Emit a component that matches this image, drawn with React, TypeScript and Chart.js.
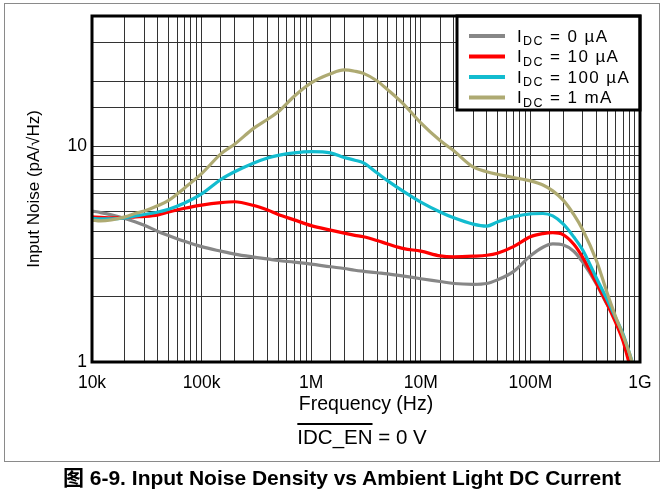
import React, { useEffect, useRef } from "react";
import { Chart, registerables } from "chart.js";

Chart.register(...registerables);

// Frequencies (Hz) shared by all curves
const FREQ_HZ = [
  1e4, 1.2e4, 1.5e4, 2e4, 2.5e4, 3e4, 4e4, 5e4, 7e4,
  1e5, 1.5e5, 2e5, 3e5, 4e5, 5e5, 7e5,
  1e6, 1.5e6, 2e6, 2.5e6, 3e6, 4e6, 5e6, 7e6,
  1e7, 1.5e7, 2e7, 3e7, 4e7, 5e7, 7e7,
  1e8, 1.3e8, 1.6e8, 2e8, 2.5e8, 3e8, 4e8, 5e8, 6e8, 7e8, 8e8, 8.5e8,
];

// Input noise (pA/√Hz)
const NOISE_0UA = [
  5.0, 4.92, 4.8, 4.62, 4.45, 4.3, 4.02, 3.85, 3.62,
  3.42, 3.26, 3.16, 3.06, 3.0, 2.95, 2.9,
  2.84, 2.76, 2.71, 2.66, 2.63, 2.59, 2.56, 2.5,
  2.43, 2.36, 2.31, 2.29, 2.31, 2.4, 2.62,
  3.1, 3.4, 3.52, 3.48, 3.25, 2.9, 2.3, 1.85, 1.58, 1.3, 1.05, 0.95,
];
const NOISE_10UA = [
  4.7, 4.68, 4.65, 4.66, 4.7, 4.72, 4.8, 4.95, 5.15,
  5.33, 5.47, 5.52, 5.3, 5.05, 4.82, 4.55,
  4.28, 4.08, 3.95, 3.86, 3.8, 3.65, 3.52, 3.35,
  3.26, 3.1, 3.07, 3.09, 3.12, 3.19, 3.42,
  3.8, 3.93, 3.97, 3.88, 3.5, 3.05, 2.32, 1.86, 1.52, 1.25, 0.98, 0.9,
];
const NOISE_100UA = [
  4.62, 4.6, 4.6, 4.65, 4.75, 4.82, 4.95, 5.1, 5.45,
  6.0, 7.0, 7.6, 8.35, 8.8, 9.05, 9.3,
  9.42, 9.3, 8.85, 8.6, 8.35, 7.5, 6.9, 6.15,
  5.5, 4.95, 4.65, 4.35, 4.26, 4.45, 4.7,
  4.85, 4.87, 4.75, 4.35, 3.78, 3.3, 2.45, 1.95, 1.6, 1.35, 1.1, 1.0,
];
const NOISE_1MA = [
  4.54, 4.5, 4.55, 4.7, 4.88, 5.0, 5.3, 5.6, 6.4,
  7.45, 9.2, 10.2, 12.1, 13.3, 14.4, 17.0,
  19.6, 21.6, 22.5, 22.2, 21.7, 20.0, 18.2, 15.6,
  12.8, 10.6, 9.5, 8.0, 7.6, 7.4, 7.15,
  6.9, 6.6, 6.2, 5.6, 4.8, 4.1, 2.95, 2.1, 1.62, 1.33, 1.1, 0.99,
];

const SERIES_LABELS = ["IDC = 0 µA", "IDC = 10 µA", "IDC = 100 µA", "IDC = 1 mA"];
const LEGEND_MAIN = "I";
const LEGEND_SUB = "DC";
const LEGEND_REST = [" = 0 µA", " = 10 µA", " = 100 µA", " = 1 mA"];
const SERIES_COLORS = ["#878787", "#ff0000", "#12bccf", "#aeaa72"];

const X_TICK_VALUES = [1e4, 1e5, 1e6, 1e7, 1e8, 1e9];
const X_TICK_LABELS = ["10k", "100k", "1M", "10M", "100M", "1G"];
const Y_TICK_VALUES = [1, 10];
const Y_TICK_LABELS = ["1", "10"];

const X_TITLE = "Frequency (Hz)";
const Y_TITLE = "Input Noise (pA/√Hz)";
const CONDITION_OVER = "IDC_EN";
const CONDITION_REST = " = 0 V";
const CAPTION = "图 6-9. Input Noise Density vs Ambient Light DC Current";

const FONT = "'Liberation Sans', Arial, 'Noto Sans CJK SC', sans-serif";

function labelFor(values: number[], labels: string[]) {
  return (v: number | string) => {
    const n = Number(v);
    const i = values.findIndex((t) => Math.abs(Math.log10(t) - Math.log10(n)) < 1e-6);
    return i >= 0 ? labels[i] : "";
  };
}

const frameAndLegendPlugin = {
  id: "frameAndLegend",
  afterDraw(chart: any) {
    const ctx = chart.ctx;
    const a = chart.chartArea;
    ctx.save();
    // legend box
    const lx = 457;
    const ly = a.top;
    const lw = a.right - lx;
    const lh = 94;
    ctx.fillStyle = "#ffffff";
    ctx.fillRect(lx, ly, lw, lh);
    ctx.strokeStyle = "#000";
    ctx.lineWidth = 3;
    ctx.strokeRect(lx, ly, lw, lh);
    chart.data.datasets.forEach((ds: any, i: number) => {
      const y = ly + 20 + i * 20.5;
      ctx.strokeStyle = ds.borderColor;
      ctx.lineWidth = 4;
      ctx.beginPath();
      ctx.moveTo(469, y);
      ctx.lineTo(505, y);
      ctx.stroke();
      ctx.fillStyle = "#000";
      ctx.textBaseline = "alphabetic";
      ctx.textAlign = "left";
      (ctx as any).letterSpacing = "1.4px";
      let x = 517;
      const base = y + 5.5;
      ctx.font = `17px ${FONT}`;
      ctx.fillText(LEGEND_MAIN, x, base);
      x += ctx.measureText(LEGEND_MAIN).width;
      ctx.font = `12.5px ${FONT}`;
      ctx.fillText(LEGEND_SUB, x, base + 3.5);
      x += ctx.measureText(LEGEND_SUB).width;
      ctx.font = `17px ${FONT}`;
      ctx.fillText(LEGEND_REST[i], x, base);
      (ctx as any).letterSpacing = "0px";
    });
    // plot border
    ctx.strokeStyle = "#000";
    ctx.lineWidth = 3;
    ctx.strokeRect(a.left, a.top, a.right - a.left, a.bottom - a.top);
    ctx.restore();
  },
};

export default function App() {
  const canvasRef = useRef<HTMLCanvasElement | null>(null);

  useEffect(() => {
    const canvas = canvasRef.current;
    if (!canvas) return;
    const seriesValues = [NOISE_0UA, NOISE_10UA, NOISE_100UA, NOISE_1MA];
    const chart = new Chart(canvas, {
      type: "line",
      data: {
        datasets: seriesValues.map((vals, i) => ({
          label: SERIES_LABELS[i],
          data: FREQ_HZ.map((f, j) => ({ x: f, y: vals[j] })),
          borderColor: SERIES_COLORS[i],
          backgroundColor: SERIES_COLORS[i],
          borderWidth: 3.2,
          pointRadius: 0,
          cubicInterpolationMode: "monotone" as const,
          fill: false,
          order: 3 - i,
        })),
      },
      options: {
        responsive: false,
        animation: false,
        devicePixelRatio: 1,
        layout: { padding: { left: 0, right: 23, top: 16, bottom: 80 } },
        plugins: {
          legend: { display: false },
          tooltip: { enabled: false },
        },
        scales: {
          x: {
            type: "logarithmic",
            min: 1e4,
            max: 1e9,
            afterFit: (s: any) => {
              s.height = 54;
            },
            grid: { color: "#333", lineWidth: 1, drawTicks: false },
            border: { display: false },
            ticks: {
              autoSkip: false,
              maxRotation: 0,
              padding: 11,
              color: "#000",
              font: { family: FONT, size: 17.5 },
              callback: labelFor(X_TICK_VALUES, X_TICK_LABELS),
            },
            title: {
              display: true,
              text: X_TITLE,
              color: "#000",
              font: { family: FONT, size: 19.5 },
              padding: 0,
            },
          },
          y: {
            type: "logarithmic",
            min: 1,
            max: 40,
            afterFit: (s: any) => {
              s.width = 92;
            },
            grid: { color: "#333", lineWidth: 1, drawTicks: false },
            border: { display: false },
            ticks: {
              autoSkip: false,
              padding: 5,
              color: "#000",
              font: { family: FONT, size: 17.5 },
              callback: labelFor(Y_TICK_VALUES, Y_TICK_LABELS),
            },
            title: {
              display: true,
              text: Y_TITLE,
              color: "#000",
              font: { family: FONT, size: 17 },
              padding: { top: 24, bottom: 0 },
            },
          },
        },
      },
      plugins: [frameAndLegendPlugin],
    });
    return () => chart.destroy();
  }, []);

  return (
    <div style={{ position: "absolute", left: 0, top: 0, width: 663, height: 496, background: "#fff", fontFamily: FONT }}>
      <div
        style={{
          position: "absolute",
          left: 4,
          top: 3,
          width: 654,
          height: 457,
          border: "1px solid #8a8a8a",
        }}
      />
      <canvas ref={canvasRef} width={663} height={496} style={{ position: "absolute", left: 0, top: 0 }} />
      <div
        style={{
          position: "absolute",
          left: 0,
          width: 724,
          top: 425,
          textAlign: "center",
          fontSize: 20.5,
          color: "#000",
          lineHeight: "24px",
          whiteSpace: "nowrap",
        }}
      >
        <span style={{ textDecoration: "overline" }}>{CONDITION_OVER}</span>
        {CONDITION_REST}
      </div>
      <div
        style={{
          position: "absolute",
          left: 0,
          width: 684,
          top: 465,
          textAlign: "center",
          fontSize: 21,
          fontWeight: "bold",
          color: "#000",
          lineHeight: "26px",
          whiteSpace: "nowrap",
        }}
      >
        {CAPTION}
      </div>
    </div>
  );
}
